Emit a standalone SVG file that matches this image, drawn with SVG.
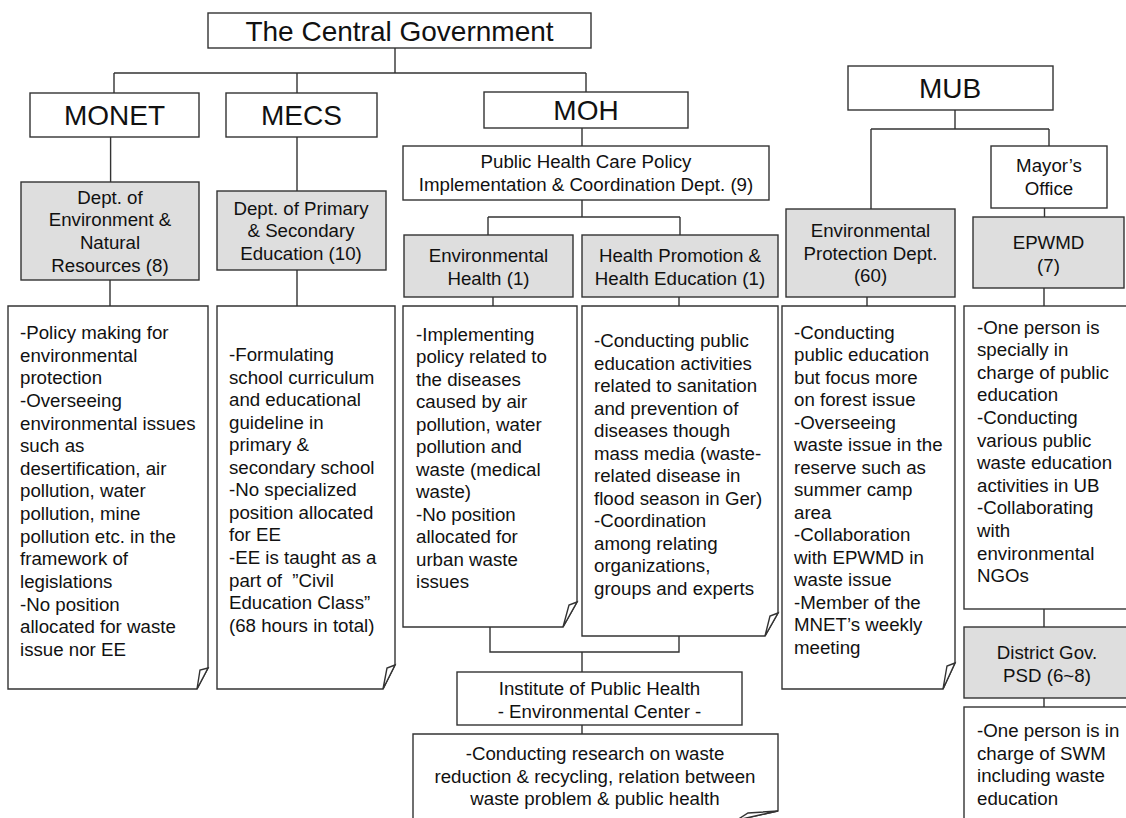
<svg xmlns="http://www.w3.org/2000/svg" width="1126" height="818" viewBox="0 0 1126 818">
<style>
.b{fill:#fff;stroke:#333;stroke-width:1.4}
.g{fill:#dedede;stroke:#333;stroke-width:1.4}
.n{fill:#fff;stroke:#333;stroke-width:1.4;stroke-linejoin:miter}
.c{fill:none;stroke:#333;stroke-width:1.4}
text{font-family:"Liberation Sans",Arial,sans-serif;fill:#111}
.big{font-size:28px;text-anchor:middle}
.m{font-size:18.7px;text-anchor:middle}
.t{font-size:18.7px}
</style>
<rect width="1126" height="818" fill="#fff"/>
<g id="connectors">
<path class="c" d="M395 48V73M114 73H586M114 73V93M297 73V93M586 73V92"/>
<path class="c" d="M110.6 137V182M297 137V191M110 280V306M297 270V306"/>
<path class="c" d="M582 128V146M582 200V217M488 217H680M488 217V235M680 217V235M493 297V306M679 297V306"/>
<path class="c" d="M490 627V652H679V636M582 652V672M582 725V734"/>
<path class="c" d="M955 110V129M871 129H1049M871 129V209M1049 129V146M1044.5 208V217M867 297V306M1044 288V306M1044 609V627M1044 698V707"/>
</g>
<g id="cg"><rect class="b" x="208" y="13" width="383" height="35"/><text class="big" x="399.5" y="40.5">The Central Government</text></g>
<g id="monet"><rect class="b" x="30" y="93" width="169" height="44"/><text class="big" x="114.5" y="125">MONET</text></g>
<g id="mecs"><rect class="b" x="226" y="93" width="151" height="44"/><text class="big" x="301.5" y="125">MECS</text></g>
<g id="moh"><rect class="b" x="484" y="92" width="204" height="36"/><text class="big" x="586" y="120">MOH</text></g>
<g id="mub"><rect class="b" x="848" y="66" width="205" height="44"/><text class="big" x="950" y="98">MUB</text></g>
<g id="dept-env"><rect class="g" x="21" y="182" width="178" height="98"/><text class="m" x="110" y="203.7">Dept. of<tspan x="110" dy="22.7">Environment &amp;</tspan><tspan x="110" dy="22.7">Natural</tspan><tspan x="110" dy="22.7">Resources (8)</tspan></text></g>
<g id="dept-prim"><rect class="g" x="217" y="191" width="169" height="79"/><text class="m" x="301" y="214.5">Dept. of Primary<tspan x="301" dy="22.7">&amp; Secondary</tspan><tspan x="301" dy="22.7">Education (10)</tspan></text></g>
<g id="phc"><rect class="b" x="403" y="146" width="366" height="54"/><text class="m" x="586" y="168.4">Public Health Care Policy<tspan x="586" dy="22.7">Implementation &amp; Coordination Dept. (9)</tspan></text></g>
<g id="env-health"><rect class="g" x="404" y="235" width="169" height="62"/><text class="m" x="488.5" y="262">Environmental<tspan x="488.5" dy="22.7">Health (1)</tspan></text></g>
<g id="health-promo"><rect class="g" x="582" y="235" width="196" height="62"/><text class="m" x="680" y="262">Health Promotion &amp;<tspan x="680" dy="22.7">Health Education (1)</tspan></text></g>
<g id="mayor"><rect class="b" x="991" y="146" width="116" height="62"/><text class="m" x="1049" y="172.4">Mayor’s<tspan x="1049" dy="22.7">Office</tspan></text></g>
<g id="env-prot"><rect class="g" x="786" y="209" width="169" height="88"/><text class="m" x="870.5" y="237">Environmental<tspan x="870.5" dy="22.7">Protection Dept.</tspan><tspan x="870.5" dy="22.7">(60)</tspan></text></g>
<g id="epwmd"><rect class="g" x="973" y="217" width="151" height="71"/><text class="m" x="1048.5" y="249">EPWMD<tspan x="1048.5" dy="22.7">(7)</tspan></text></g>
<g id="district"><rect class="g" x="964" y="627" width="166" height="71"/><text class="m" x="1047" y="659">District Gov.<tspan x="1047" dy="22.7">PSD (6~8)</tspan></text></g>
<g id="institute"><rect class="b" x="457" y="672" width="285" height="53"/><text class="m" x="599.5" y="695">Institute of Public Health<tspan x="599.5" dy="22.7">- Environmental Center -</tspan></text></g>
<g id="note1"><path class="n" d="M8 306H208V668L197 689H8Z"/><path class="n" d="M208 668L200 670L197 689Z"/>
<text class="t" x="20" y="339">-Policy making for<tspan x="20" dy="22.64">environmental</tspan><tspan x="20" dy="22.64">protection</tspan><tspan x="20" dy="22.64">-Overseeing</tspan><tspan x="20" dy="22.64">environmental issues</tspan><tspan x="20" dy="22.64">such as</tspan><tspan x="20" dy="22.64">desertification, air</tspan><tspan x="20" dy="22.64">pollution, water</tspan><tspan x="20" dy="22.64">pollution, mine</tspan><tspan x="20" dy="22.64">pollution etc. in the</tspan><tspan x="20" dy="22.64">framework of</tspan><tspan x="20" dy="22.64">legislations</tspan><tspan x="20" dy="22.64">-No position</tspan><tspan x="20" dy="22.64">allocated for waste</tspan><tspan x="20" dy="22.64">issue nor EE</tspan></text></g>
<g id="note2"><path class="n" d="M217 306H395V665L383 689H217Z"/><path class="n" d="M395 665L387 668L383 689Z"/>
<text class="t" x="229" y="361">-Formulating<tspan x="229" dy="22.55">school curriculum</tspan><tspan x="229" dy="22.55">and educational</tspan><tspan x="229" dy="22.55">guideline in</tspan><tspan x="229" dy="22.55">primary &amp;</tspan><tspan x="229" dy="22.55">secondary school</tspan><tspan x="229" dy="22.55">-No specialized</tspan><tspan x="229" dy="22.55">position allocated</tspan><tspan x="229" dy="22.55">for EE</tspan><tspan x="229" dy="22.55">-EE is taught as a</tspan><tspan x="229" dy="22.55" xml:space="preserve">part of  ”Civil</tspan><tspan x="229" dy="22.55">Education Class”</tspan><tspan x="229" dy="22.55">(68 hours in total)</tspan></text></g>
<g id="note3"><path class="n" d="M403 306H577V602L563 627H403Z"/><path class="n" d="M577 602L569 605L563 627Z"/>
<text class="t" x="416" y="341">-Implementing<tspan x="416" dy="22.45">policy related to</tspan><tspan x="416" dy="22.45">the diseases</tspan><tspan x="416" dy="22.45">caused by air</tspan><tspan x="416" dy="22.45">pollution, water</tspan><tspan x="416" dy="22.45">pollution and</tspan><tspan x="416" dy="22.45">waste (medical</tspan><tspan x="416" dy="22.45">waste)</tspan><tspan x="416" dy="22.45">-No position</tspan><tspan x="416" dy="22.45">allocated for</tspan><tspan x="416" dy="22.45">urban waste</tspan><tspan x="416" dy="22.45">issues</tspan></text></g>
<g id="note4"><path class="n" d="M582 306H778V613L765 636H582Z"/><path class="n" d="M778 613L770 616L765 636Z"/>
<text class="t" x="594" y="347">-Conducting public<tspan x="594" dy="22.5">education activities</tspan><tspan x="594" dy="22.5">related to sanitation</tspan><tspan x="594" dy="22.5">and prevention of</tspan><tspan x="594" dy="22.5">diseases though</tspan><tspan x="594" dy="22.5">mass media (waste-</tspan><tspan x="594" dy="22.5">related disease in</tspan><tspan x="594" dy="22.5">flood season in Ger)</tspan><tspan x="594" dy="22.5">-Coordination</tspan><tspan x="594" dy="22.5">among relating</tspan><tspan x="594" dy="22.5">organizations,</tspan><tspan x="594" dy="22.5">groups and experts</tspan></text></g>
<g id="note5"><path class="n" d="M782 306H955V663L943 689H782Z"/><path class="n" d="M955 663L947 666L943 689Z"/>
<text class="t" x="794" y="338.5">-Conducting<tspan x="794" dy="22.5">public education</tspan><tspan x="794" dy="22.5">but focus more</tspan><tspan x="794" dy="22.5">on forest issue</tspan><tspan x="794" dy="22.5">-Overseeing</tspan><tspan x="794" dy="22.5">waste issue in the</tspan><tspan x="794" dy="22.5">reserve such as</tspan><tspan x="794" dy="22.5">summer camp</tspan><tspan x="794" dy="22.5">area</tspan><tspan x="794" dy="22.5">-Collaboration</tspan><tspan x="794" dy="22.5">with EPWMD in</tspan><tspan x="794" dy="22.5">waste issue</tspan><tspan x="794" dy="22.5">-Member of the</tspan><tspan x="794" dy="22.5">MNET’s weekly</tspan><tspan x="794" dy="22.5">meeting</tspan></text></g>
<g id="note6"><rect class="n" x="964" y="306" width="170" height="303"/>
<text class="t" x="977" y="333.5">-One person is<tspan x="977" dy="22.6">specially in</tspan><tspan x="977" dy="22.6">charge of public</tspan><tspan x="977" dy="22.6">education</tspan><tspan x="977" dy="22.6">-Conducting</tspan><tspan x="977" dy="22.6">various public</tspan><tspan x="977" dy="22.6">waste education</tspan><tspan x="977" dy="22.6">activities in UB</tspan><tspan x="977" dy="22.6">-Collaborating</tspan><tspan x="977" dy="22.6">with</tspan><tspan x="977" dy="22.6">environmental</tspan><tspan x="977" dy="22.6">NGOs</tspan></text></g>
<g id="note7"><rect class="n" x="964" y="707" width="170" height="130"/>
<text class="t" x="977" y="737">-One person is in<tspan x="977" dy="22.65">charge of SWM</tspan><tspan x="977" dy="22.65">including waste</tspan><tspan x="977" dy="22.65">education</tspan></text></g>
<g id="note-research"><path class="n" d="M413 734H778V811L737 820H413Z"/><path class="n" d="M778 811L748 813L737 820Z"/>
<text class="m" x="595" y="760">-Conducting research on waste<tspan x="595" dy="22.7">reduction &amp; recycling, relation between</tspan><tspan x="595" dy="22.7">waste problem &amp; public health</tspan></text></g>
</svg>
